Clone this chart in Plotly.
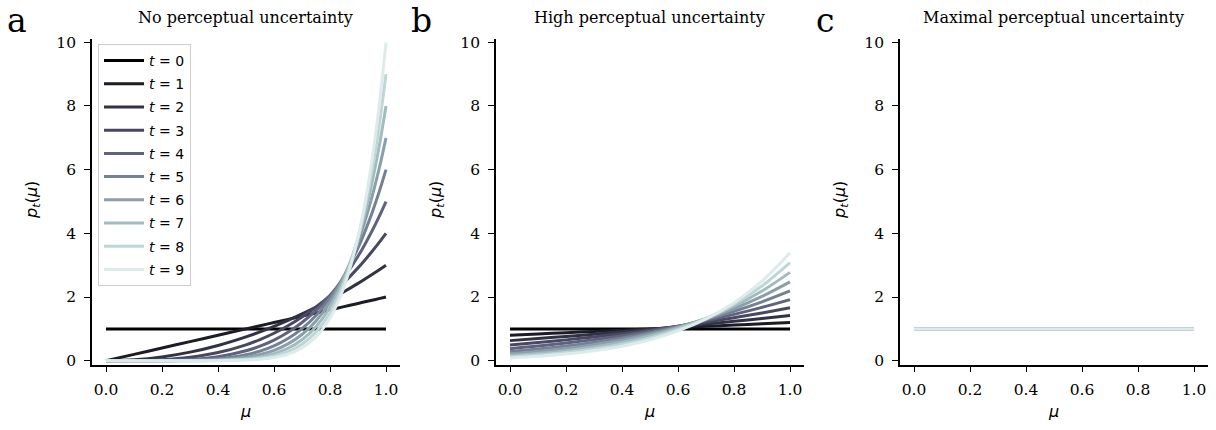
import plotly.graph_objects as go

# ---------------- data ----------------
mu_a = [0.0, 0.1, 0.2, 0.3, 0.4, 0.5, 0.55, 0.6, 0.65, 0.7, 0.75, 0.8, 0.85, 0.9, 0.925, 0.95, 0.975, 1.0]
a_t0 = [1.0, 1.0, 1.0, 1.0, 1.0, 1.0, 1.0, 1.0, 1.0, 1.0, 1.0, 1.0, 1.0, 1.0, 1.0, 1.0, 1.0, 1.0]
a_t1 = [0.0, 0.2, 0.4, 0.6, 0.8, 1.0, 1.1, 1.2, 1.3, 1.4, 1.5, 1.6, 1.7, 1.8, 1.85, 1.9, 1.95, 2.0]
a_t2 = [0.0, 0.03, 0.12, 0.27, 0.48, 0.75, 0.9075, 1.08, 1.2675, 1.47, 1.6875, 1.92, 2.1675, 2.43, 2.5669, 2.7075, 2.8519, 3.0]
a_t3 = [0.0, 0.004, 0.032, 0.108, 0.256, 0.5, 0.6655, 0.864, 1.0985, 1.372, 1.6875, 2.048, 2.4565, 2.916, 3.1658, 3.4295, 3.7074, 4.0]
a_t4 = [0.0, 0.0005, 0.008, 0.0405, 0.128, 0.3125, 0.4575, 0.648, 0.8925, 1.2005, 1.582, 2.048, 2.61, 3.2805, 3.6605, 4.0725, 4.5184, 5.0]
a_t5 = [0.0, 0.0001, 0.0019, 0.0146, 0.0614, 0.1875, 0.302, 0.4666, 0.6962, 1.0084, 1.4238, 1.9661, 2.6622, 3.5429, 4.0631, 4.6427, 5.2866, 6.0]
a_t6 = [0.0, 0.0, 0.0004, 0.0051, 0.0287, 0.1094, 0.1938, 0.3266, 0.5279, 0.8235, 1.2459, 1.835, 2.64, 3.7201, 4.3848, 5.1456, 6.0135, 7.0]
a_t7 = [0.0, 0.0, 0.0001, 0.0017, 0.0131, 0.0625, 0.1218, 0.2239, 0.3922, 0.6588, 1.0679, 1.6777, 2.5646, 3.8264, 4.6353, 5.5867, 6.7007, 8.0]
a_t8 = [0.0, 0.0, 0.0, 0.0006, 0.0059, 0.0352, 0.0754, 0.1512, 0.2868, 0.5188, 0.901, 1.5099, 2.4524, 3.8742, 4.8237, 5.9708, 7.3499, 9.0]
a_t9 = [0.0, 0.0, 0.0, 0.0002, 0.0026, 0.0195, 0.0461, 0.1008, 0.2071, 0.4035, 0.7508, 1.3422, 2.3162, 3.8742, 4.9577, 6.3025, 7.9624, 10.0]

mu_b = [0.0, 0.1, 0.2, 0.3, 0.4, 0.5, 0.6, 0.7, 0.8, 0.9, 1.0]
b_t0 = [1.0, 1.0, 1.0, 1.0, 1.0, 1.0, 1.0, 1.0, 1.0, 1.0, 1.0]
b_t1 = [0.8, 0.84, 0.88, 0.92, 0.96, 1.0, 1.04, 1.08, 1.12, 1.16, 1.2]
b_t2 = [0.6316, 0.6963, 0.7642, 0.8353, 0.9095, 0.9869, 1.0674, 1.1511, 1.2379, 1.3279, 1.4211]
b_t3 = [0.4923, 0.5699, 0.6552, 0.7487, 0.8507, 0.9615, 1.0816, 1.2112, 1.3509, 1.5008, 1.6615]
b_t4 = [0.3791, 0.4609, 0.5551, 0.6631, 0.7862, 0.9256, 1.0829, 1.2593, 1.4565, 1.676, 1.9194]
b_t5 = [0.2887, 0.3685, 0.465, 0.5807, 0.7184, 0.8811, 1.072, 1.2946, 1.5528, 1.8507, 2.1925]
b_t6 = [0.2176, 0.2916, 0.3855, 0.5033, 0.6497, 0.83, 1.0502, 1.3171, 1.6383, 2.0222, 2.4784]
b_t7 = [0.1624, 0.2285, 0.3165, 0.432, 0.5819, 0.7744, 1.0191, 1.3272, 1.712, 2.1887, 2.7749]
b_t8 = [0.1202, 0.1776, 0.2576, 0.3676, 0.5168, 0.7163, 0.9804, 1.3259, 1.7736, 2.3484, 3.0801]
b_t9 = [0.0882, 0.1369, 0.2081, 0.3104, 0.4553, 0.6574, 0.9357, 1.3142, 1.8231, 2.5002, 3.3922]

mu_c = [0.0, 1.0]
c_t0 = [1.0, 1.0]
c_t1 = [1.0, 1.0]
c_t2 = [1.0, 1.0]
c_t3 = [1.0, 1.0]
c_t4 = [1.0, 1.0]
c_t5 = [1.0, 1.0]
c_t6 = [1.0, 1.0]
c_t7 = [1.0, 1.0]
c_t8 = [1.0, 1.0]
c_t9 = [1.0, 1.0]

t_values = [0, 1, 2, 3, 4, 5, 6, 7, 8, 9]
panel_titles = ["No perceptual uncertainty", "High perceptual uncertainty", "Maximal perceptual uncertainty"]
panel_letters = ["a", "b", "c"]
x_ticks = [0.0, 0.2, 0.4, 0.6, 0.8, 1.0]
y_ticks = [0, 2, 4, 6, 8, 10]

# ---------------- styles ----------------
colors = ["rgb(0,0,0)", "rgb(28,28,39)", "rgb(50,50,70)", "rgb(72,72,100)", "rgb(94,98,126)",
          "rgb(116,129,147)", "rgb(138,159,170)", "rgb(161,188,191)", "rgb(190,214,214)", "rgb(222,235,235)"]

W, H = 1216, 430
SERIF = "DejaVu Serif"
SANS = "DejaVu Sans"

panels = [
    (mu_a, [a_t0, a_t1, a_t2, a_t3, a_t4, a_t5, a_t6, a_t7, a_t8, a_t9]),
    (mu_b, [b_t0, b_t1, b_t2, b_t3, b_t4, b_t5, b_t6, b_t7, b_t8, b_t9]),
    (mu_c, [c_t0, c_t1, c_t2, c_t3, c_t4, c_t5, c_t6, c_t7, c_t8, c_t9]),
]

x_left_px = [92, 496, 900]
plot_w_px = 308
y_top_px, y_bot_px = 35, 369

fig = go.Figure()
for p, (mu, series) in enumerate(panels):
    xa = "x" if p == 0 else f"x{p+1}"
    ya = "y" if p == 0 else f"y{p+1}"
    for t, vals in zip(t_values, series):
        fig.add_trace(go.Scatter(
            x=mu, y=vals, mode="lines",
            line=dict(color=colors[t], width=3, shape="spline", smoothing=1.0),
            name=f"<i>t</i> = {t}", legendgroup=f"g{t}",
            showlegend=(p == 0), xaxis=xa, yaxis=ya, hoverinfo="skip",
        ))

layout = dict(
    width=W, height=H, margin=dict(l=0, r=0, t=0, b=0),
    paper_bgcolor="white", plot_bgcolor="white", showlegend=True,
    legend=dict(x=98 / W, y=1 - 40 / H, xanchor="left", yanchor="top",
                bgcolor="rgba(255,255,255,0.85)", bordercolor="#cccccc", borderwidth=1,
                font=dict(family=SANS, size=14, color="black"), tracegroupgap=2,
                itemwidth=40),
)
annotations = []
for p in range(3):
    x0 = x_left_px[p] / W
    x1 = (x_left_px[p] + plot_w_px) / W
    suffix = "" if p == 0 else str(p + 1)
    layout["xaxis" + suffix] = dict(
        domain=[x0, x1], range=[-0.05, 1.05], anchor="y" + suffix,
        tickvals=x_ticks, ticktext=[f"{v:.1f}" for v in x_ticks],
        showline=True, linecolor="black", linewidth=1.6, ticks="outside", ticklen=6,
        tickwidth=1.4, tickcolor="black", showgrid=False, zeroline=False,
        ticklabelstandoff=4,
        tickfont=dict(family=SERIF, size=15.5, color="black"),
    )
    layout["yaxis" + suffix] = dict(
        domain=[1 - y_bot_px / H, 1 - y_top_px / H], range=[-0.12, 10.1], anchor="x" + suffix,
        tickvals=y_ticks, showline=True, linecolor="black", linewidth=1.6, ticks="outside",
        ticklen=6, tickwidth=1.4, tickcolor="black", showgrid=False, zeroline=False,
        ticklabelstandoff=5,
        tickfont=dict(family=SERIF, size=15.5, color="black"),
    )
    cx = (x_left_px[p] + 14 + 139.5) / W
    annotations.append(dict(text=panel_titles[p], x=cx, y=1 - 13 / H, xref="paper", yref="paper",
                            xanchor="center", yanchor="middle", showarrow=False,
                            font=dict(family=SERIF, size=16, color="black")))
    annotations.append(dict(text=panel_letters[p], x=(x_left_px[p] - 75) / W, y=1 - 16 / H,
                            xref="paper", yref="paper", xanchor="center", yanchor="middle",
                            showarrow=False, font=dict(family=SERIF, size=33, color="black")))
    annotations.append(dict(text="<i>μ</i>", x=cx, y=1 - 417 / H, xref="paper", yref="paper",
                            xanchor="center", yanchor="middle", showarrow=False,
                            font=dict(family=SANS, size=16, color="black")))
    annotations.append(dict(text="<i>p</i><sub><i>t</i></sub>(<i>μ</i>)", x=(x_left_px[p] - 59) / W,
                            y=1 - 200 / H, xref="paper", yref="paper", xanchor="center",
                            yanchor="middle", textangle=-90, showarrow=False,
                            font=dict(family=SANS, size=16, color="black")))
layout["annotations"] = annotations
fig.update_layout(**layout)
fig.write_html("out.html")
